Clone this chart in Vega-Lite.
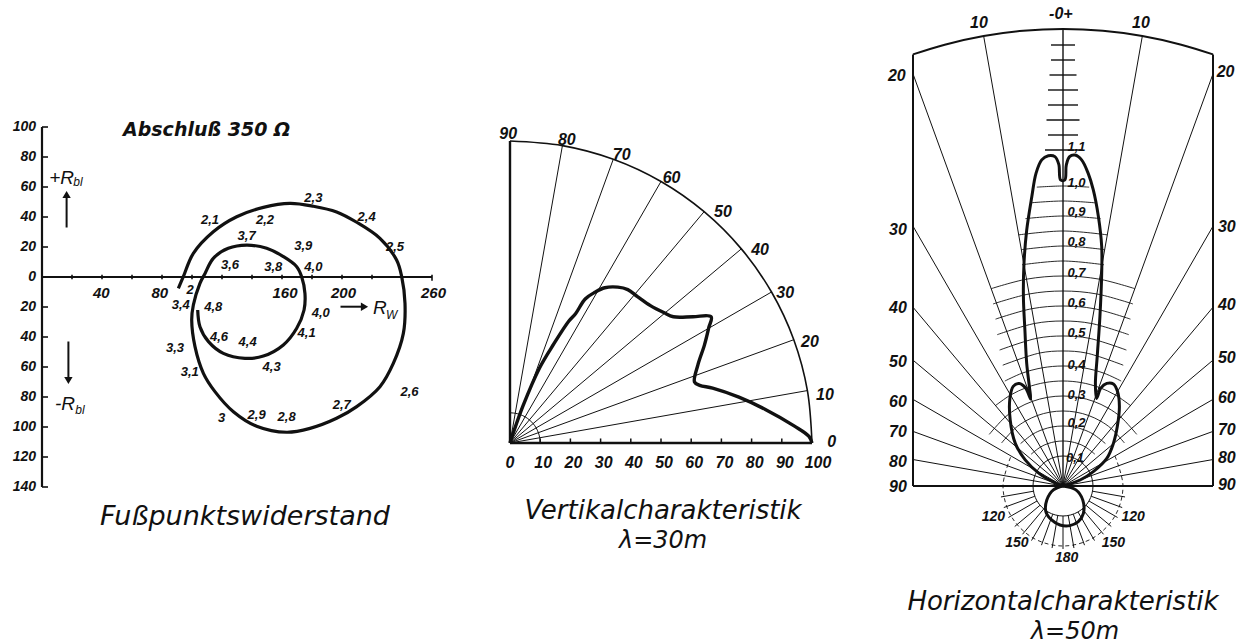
{
"$schema":"https://vega.github.io/schema/vega-lite/v6.json",
"background":"white",
"padding":0,
"spacing":0,
"config":{"view":{"stroke":null},"concat":{"spacing":0}},
"datasets":{
"L_rules":[
{"k":"axis","x":0,"y":-140,"x2":0,"y2":100},
{"k":"axis","x":0,"y":0,"x2":260,"y2":0},
{"k":"tick","x":0,"y":100,"x2":4,"y2":100},{"k":"tick","x":0,"y":80,"x2":4,"y2":80},{"k":"tick","x":0,"y":60,"x2":4,"y2":60},{"k":"tick","x":0,"y":40,"x2":4,"y2":40},{"k":"tick","x":0,"y":20,"x2":4,"y2":20},{"k":"tick","x":0,"y":-20,"x2":4,"y2":-20},{"k":"tick","x":0,"y":-40,"x2":4,"y2":-40},{"k":"tick","x":0,"y":-60,"x2":4,"y2":-60},{"k":"tick","x":0,"y":-80,"x2":4,"y2":-80},{"k":"tick","x":0,"y":-100,"x2":4,"y2":-100},{"k":"tick","x":0,"y":-120,"x2":4,"y2":-120},{"k":"tick","x":0,"y":-140,"x2":4,"y2":-140},
{"k":"tick","x":20,"y":-1.5,"x2":20,"y2":1.5},{"k":"tick","x":40,"y":-1.5,"x2":40,"y2":1.5},{"k":"tick","x":60,"y":-1.5,"x2":60,"y2":1.5},{"k":"tick","x":80,"y":-1.5,"x2":80,"y2":1.5},{"k":"tick","x":100,"y":-1.5,"x2":100,"y2":1.5},{"k":"tick","x":120,"y":-1.5,"x2":120,"y2":1.5},{"k":"tick","x":140,"y":-1.5,"x2":140,"y2":1.5},{"k":"tick","x":160,"y":-1.5,"x2":160,"y2":1.5},{"k":"tick","x":180,"y":-1.5,"x2":180,"y2":1.5},{"k":"tick","x":200,"y":-1.5,"x2":200,"y2":1.5},{"k":"tick","x":220,"y":-1.5,"x2":220,"y2":1.5},{"k":"tick","x":240,"y":-1.5,"x2":240,"y2":1.5},{"k":"tick","x":260,"y":-2.5,"x2":260,"y2":1.5},
{"k":"arrow","x":16.4,"y":33,"x2":16.4,"y2":53},
{"k":"arrow","x":17.6,"y":-43,"x2":17.6,"y2":-67},
{"k":"arrow","x":199,"y":-19.8,"x2":213,"y2":-19.8}
],
"L_heads":[
{"x":16.4,"y":55,"d":"up"},{"x":17.6,"y":-69,"d":"down"},{"x":215,"y":-19.8,"d":"right"}
],
"L_curve":[
{"i":0,"x":90.9,"y":-7.6},{"i":1,"x":94.2,"y":0.2},{"i":2,"x":100.9,"y":15.8},{"i":3,"x":114.2,"y":30.2},{"i":4,"x":129.8,"y":40.2},{"i":5,"x":147.6,"y":46.4},{"i":6,"x":165.3,"y":49.1},{"i":7,"x":180.9,"y":47.2},{"i":8,"x":196.4,"y":43.4},{"i":9,"x":209.8,"y":36.5},{"i":10,"x":225.3,"y":25.8},{"i":11,"x":236.4,"y":11.3},{"i":12,"x":239.8,"y":0.2},{"i":13,"x":242.0,"y":-17.6},{"i":14,"x":240.9,"y":-37.6},{"i":15,"x":234.2,"y":-57.6},{"i":16,"x":225.3,"y":-73.1},{"i":17,"x":209.8,"y":-86.4},{"i":18,"x":196.4,"y":-94.2},{"i":19,"x":178.7,"y":-100.9},{"i":20,"x":163.1,"y":-103.5},{"i":21,"x":143.1,"y":-99.5},{"i":22,"x":127.6,"y":-89.8},{"i":23,"x":115.3,"y":-76.4},{"i":24,"x":107.6,"y":-64.2},{"i":25,"x":102.0,"y":-46.4},{"i":26,"x":99.8,"y":-28.7},{"i":27,"x":100.9,"y":-18.7},
{"i":28,"x":105.3,"y":-4.2},{"i":29,"x":108.7,"y":2.4},{"i":30,"x":114.2,"y":12.4},{"i":31,"x":124.2,"y":19.1},{"i":32,"x":136.4,"y":21.3},{"i":33,"x":149.8,"y":19.1},{"i":34,"x":160.9,"y":13.6},{"i":35,"x":169.8,"y":6.9},{"i":36,"x":173.1,"y":0.2},{"i":37,"x":175.3,"y":-10.9},{"i":38,"x":174.7,"y":-22.0},{"i":39,"x":169.8,"y":-34.2},{"i":40,"x":160.9,"y":-45.3},{"i":41,"x":147.6,"y":-52.7},{"i":42,"x":135.3,"y":-54.2},{"i":43,"x":120.9,"y":-50.9},{"i":44,"x":111.0,"y":-43.1},{"i":45,"x":105.3,"y":-33.1},{"i":46,"x":103.8,"y":-22.0}
],
"L_text":[
{"k":"yl","x":-4,"y":100,"t":"100"},{"k":"yl","x":-4,"y":80,"t":"80"},{"k":"yl","x":-4,"y":60,"t":"60"},{"k":"yl","x":-4,"y":40,"t":"40"},{"k":"yl","x":-4,"y":20,"t":"20"},{"k":"yl","x":-4,"y":0,"t":"0"},{"k":"yl","x":-4,"y":-20,"t":"20"},{"k":"yl","x":-4,"y":-40,"t":"40"},{"k":"yl","x":-4,"y":-60,"t":"60"},{"k":"yl","x":-4,"y":-80,"t":"80"},{"k":"yl","x":-4,"y":-100,"t":"100"},{"k":"yl","x":-4,"y":-120,"t":"120"},{"k":"yl","x":-4,"y":-140,"t":"140"},
{"k":"xl","x":39.5,"y":-10.5,"t":"40"},{"k":"xl","x":78.5,"y":-10.5,"t":"80"},{"k":"xl","x":162,"y":-10.5,"t":"160"},{"k":"xl","x":201,"y":-10.5,"t":"200"},{"k":"xl","x":261,"y":-10.5,"t":"260"},
{"k":"pl","x":98.7,"y":-8.5,"t":"2"},{"k":"pl","x":112,"y":38,"t":"2,1"},{"k":"pl","x":148.7,"y":38,"t":"2,2"},{"k":"pl","x":180.9,"y":53,"t":"2,3"},{"k":"pl","x":216.4,"y":40.2,"t":"2,4"},{"k":"pl","x":235.3,"y":20.2,"t":"2,5"},{"k":"pl","x":245,"y":-76.4,"t":"2,6"},{"k":"pl","x":199.8,"y":-85.3,"t":"2,7"},{"k":"pl","x":163.1,"y":-93.1,"t":"2,8"},{"k":"pl","x":143.1,"y":-92,"t":"2,9"},{"k":"pl","x":119.8,"y":-94.2,"t":"3"},{"k":"pl","x":98.5,"y":-63.1,"t":"3,1"},{"k":"pl","x":88.7,"y":-47.6,"t":"3,3"},{"k":"pl","x":92.5,"y":-18.7,"t":"3,4"},{"k":"pl","x":125.3,"y":8,"t":"3,6"},{"k":"pl","x":136.4,"y":27.5,"t":"3,7"},{"k":"pl","x":154.2,"y":6.9,"t":"3,8"},{"k":"pl","x":174.2,"y":20.7,"t":"3,9"},{"k":"pl","x":180.9,"y":6.9,"t":"4,0"},{"k":"pl","x":185.8,"y":-23.8,"t":"4,0"},{"k":"pl","x":176.4,"y":-37.6,"t":"4,1"},{"k":"pl","x":153.1,"y":-59.8,"t":"4,3"},{"k":"pl","x":137.1,"y":-43.1,"t":"4,4"},{"k":"pl","x":118,"y":-39.8,"t":"4,6"},{"k":"pl","x":114.2,"y":-19.8,"t":"4,8"},
{"k":"head","x":54,"y":98,"t":"Abschluß 350 Ω"},
{"k":"R","x":13.1,"y":66,"t":"+R"},{"k":"R","x":15.3,"y":-84.4,"t":"-R"},{"k":"R","x":225.3,"y":-20.9,"t":"R"},
{"k":"sub","x":24,"y":63.5,"t":"bl"},{"k":"sub","x":25.3,"y":-88.7,"t":"bl"},{"k":"sub","x":233.1,"y":-25.3,"t":"W"},
{"k":"title","x":135.3,"y":-160,"t":"Fußpunktswiderstand"}
],
"M_rules":[
{"k":"axis","x":0,"y":0,"x2":100,"y2":0},{"k":"axis","x":0,"y":0,"x2":0,"y2":100},
{"k":"radial","x":0,"y":0,"x2":98.48,"y2":17.36},{"k":"radial","x":0,"y":0,"x2":93.97,"y2":34.2},{"k":"radial","x":0,"y":0,"x2":86.6,"y2":50},{"k":"radial","x":0,"y":0,"x2":76.6,"y2":64.28},{"k":"radial","x":0,"y":0,"x2":64.28,"y2":76.6},{"k":"radial","x":0,"y":0,"x2":50,"y2":86.6},{"k":"radial","x":0,"y":0,"x2":34.2,"y2":93.97},{"k":"radial","x":0,"y":0,"x2":17.36,"y2":98.48},
{"k":"tick","x":10,"y":0,"x2":10,"y2":1.5},{"k":"tick","x":20,"y":0,"x2":20,"y2":1.5},{"k":"tick","x":30,"y":0,"x2":30,"y2":1.5},{"k":"tick","x":40,"y":0,"x2":40,"y2":1.5},{"k":"tick","x":50,"y":0,"x2":50,"y2":1.5},{"k":"tick","x":60,"y":0,"x2":60,"y2":1.5},{"k":"tick","x":70,"y":0,"x2":70,"y2":1.5},{"k":"tick","x":80,"y":0,"x2":80,"y2":1.5},{"k":"tick","x":90,"y":0,"x2":90,"y2":1.5}
],
"M_arcs":[
{"a":"o","x":0,"y":100},{"a":"o","x":17.36,"y":98.48},{"a":"o","x":34.2,"y":93.97},{"a":"o","x":50,"y":86.6},{"a":"o","x":64.28,"y":76.6},{"a":"o","x":76.6,"y":64.28},{"a":"o","x":86.6,"y":50},{"a":"o","x":93.97,"y":34.2},{"a":"o","x":98.48,"y":17.36},{"a":"o","x":100,"y":0},
{"a":"i","x":0,"y":10},{"a":"i","x":1.736,"y":9.848},{"a":"i","x":3.42,"y":9.397},{"a":"i","x":5,"y":8.66},{"a":"i","x":6.428,"y":7.66},{"a":"i","x":7.66,"y":6.428},{"a":"i","x":8.66,"y":5},{"a":"i","x":9.397,"y":3.42},{"a":"i","x":9.848,"y":1.736},{"a":"i","x":10,"y":0}
],
"M_curve":[
{"i":0,"x":0,"y":0},{"i":1,"x":1.1,"y":3.4},{"i":2,"x":4.3,"y":12.3},{"i":3,"x":9.7,"y":24.7},{"i":4,"x":14.5,"y":32.8},{"i":5,"x":19.5,"y":40.4},{"i":6,"x":21.7,"y":42.8},{"i":7,"x":24.9,"y":47.7},{"i":8,"x":28.1,"y":49.9},{"i":9,"x":31.4,"y":51.4},{"i":10,"x":35.7,"y":51.6},{"i":11,"x":39.0,"y":50.8},{"i":12,"x":42.2,"y":48.5},{"i":13,"x":46.5,"y":45.5},{"i":14,"x":50.9,"y":43.2},{"i":15,"x":54.1,"y":41.8},{"i":16,"x":60.6,"y":41.8},{"i":17,"x":66.6,"y":41.8},{"i":18,"x":65.8,"y":38.1},{"i":19,"x":64.4,"y":32.5},{"i":20,"x":62.2,"y":25.8},{"i":21,"x":61.1,"y":20.2},{"i":22,"x":62.8,"y":19.1},{"i":23,"x":67.1,"y":18.2},{"i":24,"x":75.8,"y":15.2},{"i":25,"x":84.4,"y":11.2},{"i":26,"x":94.2,"y":5.6},{"i":27,"x":99.0,"y":2.2},{"i":28,"x":100,"y":0}
],
"M_text":[
{"k":"xl","x":0,"y":-6.5,"t":"0"},{"k":"xl","x":11,"y":-6.5,"t":"10"},{"k":"xl","x":21,"y":-6.5,"t":"20"},{"k":"xl","x":31,"y":-6.5,"t":"30"},{"k":"xl","x":41,"y":-6.5,"t":"40"},{"k":"xl","x":51,"y":-6.5,"t":"50"},{"k":"xl","x":61,"y":-6.5,"t":"60"},{"k":"xl","x":71,"y":-6.5,"t":"70"},{"k":"xl","x":81,"y":-6.5,"t":"80"},{"k":"xl","x":91,"y":-6.5,"t":"90"},{"k":"xl","x":102,"y":-6.5,"t":"100"},
{"k":"al","x":106.5,"y":0.3,"t":"0"},{"k":"al","x":104.3,"y":15.9,"t":"10"},{"k":"al","x":99.3,"y":33.5,"t":"20"},{"k":"al","x":91.1,"y":49.6,"t":"30"},{"k":"al","x":82.8,"y":63.9,"t":"40"},{"k":"al","x":70.5,"y":76.6,"t":"50"},{"k":"al","x":53.5,"y":87.6,"t":"60"},{"k":"al","x":37,"y":95.4,"t":"70"},{"k":"al","x":18.8,"y":100.3,"t":"80"},{"k":"al","x":-0.6,"y":102.3,"t":"90"},
{"k":"title","x":50.7,"y":-22.5,"t":"Vertikalcharakteristik"},
{"k":"sub","x":50.7,"y":-32.5,"t":"λ=30m"}
],
"R_rules":[
{"k":"frame","x":-0.5,"y":0,"x2":0.5,"y2":0},{"k":"frame","x":-0.5,"y":0,"x2":-0.5,"y2":1.4386},{"k":"frame","x":0.5,"y":0,"x2":0.5,"y2":1.4386},
{"k":"center","x":0,"y":0,"x2":0,"y2":1.523},
{"k":"radial","x":0,"y":0,"x2":-0.2645,"y2":1.4999},{"k":"radial","x":0,"y":0,"x2":0.2645,"y2":1.4999},
{"k":"radial","x":0,"y":0,"x2":-0.5,"y2":1.3737},{"k":"radial","x":0,"y":0,"x2":0.5,"y2":1.3737},
{"k":"radial","x":0,"y":0,"x2":-0.5,"y2":0.866},{"k":"radial","x":0,"y":0,"x2":0.5,"y2":0.866},
{"k":"radial","x":0,"y":0,"x2":-0.5,"y2":0.5959},{"k":"radial","x":0,"y":0,"x2":0.5,"y2":0.5959},
{"k":"radial","x":0,"y":0,"x2":-0.5,"y2":0.4195},{"k":"radial","x":0,"y":0,"x2":0.5,"y2":0.4195},
{"k":"radial","x":0,"y":0,"x2":-0.5,"y2":0.2887},{"k":"radial","x":0,"y":0,"x2":0.5,"y2":0.2887},
{"k":"radial","x":0,"y":0,"x2":-0.5,"y2":0.182},{"k":"radial","x":0,"y":0,"x2":0.5,"y2":0.182},
{"k":"radial","x":0,"y":0,"x2":-0.5,"y2":0.0882},{"k":"radial","x":0,"y":0,"x2":0.5,"y2":0.0882},
{"k":"tick","x":-0.04,"y":1.47,"x2":0.04,"y2":1.47},{"k":"tick","x":-0.04,"y":1.42,"x2":0.04,"y2":1.42},{"k":"tick","x":-0.045,"y":1.37,"x2":0.045,"y2":1.37},{"k":"tick","x":-0.05,"y":1.32,"x2":0.05,"y2":1.32},{"k":"tick","x":-0.05,"y":1.27,"x2":0.05,"y2":1.27},{"k":"tick","x":-0.055,"y":1.22,"x2":0.055,"y2":1.22},{"k":"tick","x":-0.05,"y":1.17,"x2":0.05,"y2":1.17},{"k":"tick","x":-0.06,"y":1.12,"x2":0.06,"y2":1.12},
{"k":"fan","x":0.0985,"y":-0.0174,"x2":0.2068,"y2":-0.0365},{"k":"fan","x":0.094,"y":-0.0342,"x2":0.1973,"y2":-0.0718},{"k":"fan","x":0.0866,"y":-0.05,"x2":0.1819,"y2":-0.105},{"k":"fan","x":0.0766,"y":-0.0643,"x2":0.1609,"y2":-0.135},{"k":"fan","x":0.0643,"y":-0.0766,"x2":0.135,"y2":-0.1609},{"k":"fan","x":0.05,"y":-0.0866,"x2":0.105,"y2":-0.1819},{"k":"fan","x":0.0342,"y":-0.094,"x2":0.0718,"y2":-0.1973},{"k":"fan","x":0.0174,"y":-0.0985,"x2":0.0365,"y2":-0.2068},{"k":"fan","x":0,"y":-0.1,"x2":0,"y2":-0.21},
{"k":"fan","x":-0.0985,"y":-0.0174,"x2":-0.2068,"y2":-0.0365},{"k":"fan","x":-0.094,"y":-0.0342,"x2":-0.1973,"y2":-0.0718},{"k":"fan","x":-0.0866,"y":-0.05,"x2":-0.1819,"y2":-0.105},{"k":"fan","x":-0.0766,"y":-0.0643,"x2":-0.1609,"y2":-0.135},{"k":"fan","x":-0.0643,"y":-0.0766,"x2":-0.135,"y2":-0.1609},{"k":"fan","x":-0.05,"y":-0.0866,"x2":-0.105,"y2":-0.1819},{"k":"fan","x":-0.0342,"y":-0.094,"x2":-0.0718,"y2":-0.1973},{"k":"fan","x":-0.0174,"y":-0.0985,"x2":-0.0365,"y2":-0.2068}
],
"R_arcs":[
{"k":"frame","a":"f","x":-0.5,"y":1.4386},{"k":"frame","a":"f","x":-0.3942,"y":1.4711},{"k":"frame","a":"f","x":-0.2644,"y":1.4999},{"k":"frame","a":"f","x":-0.1328,"y":1.5172},{"k":"frame","a":"f","x":0,"y":1.523},{"k":"frame","a":"f","x":0.1328,"y":1.5172},{"k":"frame","a":"f","x":0.2644,"y":1.4999},{"k":"frame","a":"f","x":0.3942,"y":1.4711},{"k":"frame","a":"f","x":0.5,"y":1.4386},
{"k":"grid","a":"r100","x":-0.0872,"y":0.9962},{"k":"grid","a":"r100","x":0,"y":1},{"k":"grid","a":"r100","x":0.0872,"y":0.9962},
{"k":"grid","a":"r095","x":-0.1075,"y":0.9439},{"k":"grid","a":"r095","x":0,"y":0.95},{"k":"grid","a":"r095","x":0.1075,"y":0.9439},
{"k":"grid","a":"r090","x":-0.1253,"y":0.8913},{"k":"grid","a":"r090","x":0,"y":0.9},{"k":"grid","a":"r090","x":0.1253,"y":0.8913},
{"k":"grid","a":"r085","x":-0.1476,"y":0.8371},{"k":"grid","a":"r085","x":0,"y":0.85},{"k":"grid","a":"r085","x":0.1476,"y":0.8371},
{"k":"grid","a":"r080","x":-0.1389,"y":0.7878},{"k":"grid","a":"r080","x":0,"y":0.8},{"k":"grid","a":"r080","x":0.1389,"y":0.7878},
{"k":"grid","a":"r075","x":-0.1367,"y":0.7375},{"k":"grid","a":"r075","x":0,"y":0.75},{"k":"grid","a":"r075","x":0.1367,"y":0.7375},
{"k":"grid","a":"r070","x":-0.2394,"y":0.6578},{"k":"grid","a":"r070","x":-0.1215,"y":0.6894},{"k":"grid","a":"r070","x":0,"y":0.7},{"k":"grid","a":"r070","x":0.1215,"y":0.6894},{"k":"grid","a":"r070","x":0.2394,"y":0.6578},
{"k":"grid","a":"r065","x":-0.233,"y":0.6068},{"k":"grid","a":"r065","x":-0.1128,"y":0.6401},{"k":"grid","a":"r065","x":0,"y":0.65},{"k":"grid","a":"r065","x":0.1128,"y":0.6401},{"k":"grid","a":"r065","x":0.233,"y":0.6068},
{"k":"grid","a":"r060","x":-0.2248,"y":0.5563},{"k":"grid","a":"r060","x":-0.1042,"y":0.5909},{"k":"grid","a":"r060","x":0,"y":0.6},{"k":"grid","a":"r060","x":0.1042,"y":0.5909},{"k":"grid","a":"r060","x":0.2248,"y":0.5563},
{"k":"grid","a":"r055","x":-0.2193,"y":0.5044},{"k":"grid","a":"r055","x":-0.0955,"y":0.5416},{"k":"grid","a":"r055","x":0,"y":0.55},{"k":"grid","a":"r055","x":0.0955,"y":0.5416},{"k":"grid","a":"r055","x":0.2193,"y":0.5044},
{"k":"grid","a":"r050","x":-0.2113,"y":0.4532},{"k":"grid","a":"r050","x":-0.0868,"y":0.4924},{"k":"grid","a":"r050","x":0,"y":0.5},{"k":"grid","a":"r050","x":0.0868,"y":0.4924},{"k":"grid","a":"r050","x":0.2113,"y":0.4532},
{"k":"grid","a":"r045","x":-0.2008,"y":0.4027},{"k":"grid","a":"r045","x":-0.0781,"y":0.4432},{"k":"grid","a":"r045","x":0,"y":0.45},{"k":"grid","a":"r045","x":0.0781,"y":0.4432},{"k":"grid","a":"r045","x":0.2008,"y":0.4027},
{"k":"grid","a":"r040","x":-0.1939,"y":0.3498},{"k":"grid","a":"r040","x":-0.1368,"y":0.3759},{"k":"grid","a":"r040","x":-0.0695,"y":0.3939},{"k":"grid","a":"r040","x":0,"y":0.4},{"k":"grid","a":"r040","x":0.0695,"y":0.3939},{"k":"grid","a":"r040","x":0.1368,"y":0.3759},{"k":"grid","a":"r040","x":0.1939,"y":0.3498},
{"k":"grid","a":"r035","x":-0.225,"y":0.2681},{"k":"grid","a":"r035","x":-0.175,"y":0.3031},{"k":"grid","a":"r035","x":-0.1197,"y":0.3289},{"k":"grid","a":"r035","x":-0.0608,"y":0.3447},{"k":"grid","a":"r035","x":0,"y":0.35},{"k":"grid","a":"r035","x":0.0608,"y":0.3447},{"k":"grid","a":"r035","x":0.1197,"y":0.3289},{"k":"grid","a":"r035","x":0.175,"y":0.3031},{"k":"grid","a":"r035","x":0.225,"y":0.2681},
{"k":"grid","a":"r030","x":-0.2458,"y":0.1721},{"k":"grid","a":"r030","x":-0.1928,"y":0.2298},{"k":"grid","a":"r030","x":-0.15,"y":0.2598},{"k":"grid","a":"r030","x":-0.1026,"y":0.2819},{"k":"grid","a":"r030","x":-0.0521,"y":0.2954},{"k":"grid","a":"r030","x":0,"y":0.3},{"k":"grid","a":"r030","x":0.0521,"y":0.2954},{"k":"grid","a":"r030","x":0.1026,"y":0.2819},{"k":"grid","a":"r030","x":0.15,"y":0.2598},{"k":"grid","a":"r030","x":0.1928,"y":0.2298},{"k":"grid","a":"r030","x":0.2458,"y":0.1721},
{"k":"grid","a":"r025","x":-0.2048,"y":0.1434},{"k":"grid","a":"r025","x":-0.1607,"y":0.1915},{"k":"grid","a":"r025","x":-0.125,"y":0.2165},{"k":"grid","a":"r025","x":-0.0855,"y":0.2349},{"k":"grid","a":"r025","x":-0.0434,"y":0.2462},{"k":"grid","a":"r025","x":0,"y":0.25},{"k":"grid","a":"r025","x":0.0434,"y":0.2462},{"k":"grid","a":"r025","x":0.0855,"y":0.2349},{"k":"grid","a":"r025","x":0.125,"y":0.2165},{"k":"grid","a":"r025","x":0.1607,"y":0.1915},{"k":"grid","a":"r025","x":0.2048,"y":0.1434},
{"k":"grid","a":"r020","x":-0.1414,"y":0.1414},{"k":"grid","a":"r020","x":-0.1,"y":0.1732},{"k":"grid","a":"r020","x":-0.0684,"y":0.1879},{"k":"grid","a":"r020","x":-0.0347,"y":0.197},{"k":"grid","a":"r020","x":0,"y":0.2},{"k":"grid","a":"r020","x":0.0347,"y":0.197},{"k":"grid","a":"r020","x":0.0684,"y":0.1879},{"k":"grid","a":"r020","x":0.1,"y":0.1732},{"k":"grid","a":"r020","x":0.1414,"y":0.1414},
{"k":"grid","a":"r015","x":-0.1061,"y":0.1061},{"k":"grid","a":"r015","x":-0.075,"y":0.1299},{"k":"grid","a":"r015","x":-0.0513,"y":0.141},{"k":"grid","a":"r015","x":-0.026,"y":0.1477},{"k":"grid","a":"r015","x":0,"y":0.15},{"k":"grid","a":"r015","x":0.026,"y":0.1477},{"k":"grid","a":"r015","x":0.0513,"y":0.141},{"k":"grid","a":"r015","x":0.075,"y":0.1299},{"k":"grid","a":"r015","x":0.1061,"y":0.1061}
],
"R_dash":[
{"j":0,"x":0.1732,"y":0.1},{"j":1,"x":0.2,"y":0},{"j":2,"x":0.1732,"y":-0.1},{"j":3,"x":0.1,"y":-0.1732},{"j":4,"x":0,"y":-0.2},{"j":5,"x":-0.1,"y":-0.1732},{"j":6,"x":-0.1732,"y":-0.1},{"j":7,"x":-0.2,"y":0},{"j":8,"x":-0.1732,"y":0.1}
],
"R_circle":[
{"j":0,"x":0,"y":0.1},{"j":1,"x":0.05,"y":0.0866},{"j":2,"x":0.0866,"y":0.05},{"j":3,"x":0.1,"y":0},{"j":4,"x":0.0866,"y":-0.05},{"j":5,"x":0.05,"y":-0.0866},{"j":6,"x":0,"y":-0.1},{"j":7,"x":-0.05,"y":-0.0866},{"j":8,"x":-0.0866,"y":-0.05},{"j":9,"x":-0.1,"y":0},{"j":10,"x":-0.0866,"y":0.05},{"j":11,"x":-0.05,"y":0.0866}
],
"R_lobe":[
{"i":0,"x":0,"y":0},{"i":1,"x":0.057,"y":0.02},{"i":2,"x":0.101,"y":0.048},{"i":3,"x":0.146,"y":0.092},{"i":4,"x":0.168,"y":0.142},{"i":5,"x":0.181,"y":0.198},{"i":6,"x":0.188,"y":0.264},{"i":7,"x":0.182,"y":0.314},{"i":8,"x":0.168,"y":0.34},{"i":9,"x":0.146,"y":0.342},{"i":10,"x":0.126,"y":0.326},{"i":11,"x":0.112,"y":0.292},{"i":12,"x":0.108,"y":0.34},{"i":13,"x":0.114,"y":0.431},{"i":14,"x":0.123,"y":0.564},{"i":15,"x":0.129,"y":0.709},{"i":16,"x":0.129,"y":0.798},{"i":17,"x":0.118,"y":0.898},{"i":18,"x":0.101,"y":0.987},{"i":19,"x":0.084,"y":1.042},{"i":20,"x":0.062,"y":1.087},{"i":21,"x":0.04,"y":1.103},{"i":22,"x":0.022,"y":1.098},{"i":23,"x":0.011,"y":1.07},{"i":24,"x":0.006,"y":1.02},{"i":25,"x":-0.008,"y":1.02},{"i":26,"x":-0.014,"y":1.072},{"i":27,"x":-0.027,"y":1.098},{"i":28,"x":-0.049,"y":1.101},{"i":29,"x":-0.071,"y":1.087},{"i":30,"x":-0.09,"y":1.042},{"i":31,"x":-0.104,"y":0.964},{"i":32,"x":-0.121,"y":0.853},{"i":33,"x":-0.13,"y":0.742},{"i":34,"x":-0.132,"y":0.631},{"i":35,"x":-0.127,"y":0.52},{"i":36,"x":-0.121,"y":0.409},{"i":37,"x":-0.112,"y":0.33},{"i":38,"x":-0.108,"y":0.29},{"i":39,"x":-0.124,"y":0.326},{"i":40,"x":-0.146,"y":0.342},{"i":41,"x":-0.166,"y":0.332},{"i":42,"x":-0.177,"y":0.292},{"i":43,"x":-0.176,"y":0.22},{"i":44,"x":-0.159,"y":0.142},{"i":45,"x":-0.126,"y":0.087},{"i":46,"x":-0.08,"y":0.042},{"i":47,"x":-0.03,"y":0.012},{"i":48,"x":0,"y":0}
],
"R_back":[
{"i":0,"x":0,"y":0},{"i":1,"x":-0.032,"y":-0.013},{"i":2,"x":-0.054,"y":-0.047},{"i":3,"x":-0.057,"y":-0.086},{"i":4,"x":-0.038,"y":-0.113},{"i":5,"x":-0.01,"y":-0.13},{"i":6,"x":0.023,"y":-0.132},{"i":7,"x":0.051,"y":-0.119},{"i":8,"x":0.068,"y":-0.091},{"i":9,"x":0.066,"y":-0.047},{"i":10,"x":0.043,"y":-0.013},{"i":11,"x":0,"y":0}
],
"R_text":[
{"k":"sl","x":-0.554,"y":1.367,"t":"20"},{"k":"sl","x":0.542,"y":1.381,"t":"20"},
{"k":"sl","x":-0.55,"y":0.853,"t":"30"},{"k":"sl","x":0.546,"y":0.864,"t":"30"},
{"k":"sl","x":-0.55,"y":0.592,"t":"40"},{"k":"sl","x":0.546,"y":0.603,"t":"40"},
{"k":"sl","x":-0.55,"y":0.414,"t":"50"},{"k":"sl","x":0.546,"y":0.426,"t":"50"},
{"k":"sl","x":-0.55,"y":0.281,"t":"60"},{"k":"sl","x":0.546,"y":0.292,"t":"60"},
{"k":"sl","x":-0.55,"y":0.181,"t":"70"},{"k":"sl","x":0.546,"y":0.187,"t":"70"},
{"k":"sl","x":-0.55,"y":0.081,"t":"80"},{"k":"sl","x":0.546,"y":0.092,"t":"80"},
{"k":"sl","x":-0.55,"y":-0.002,"t":"90"},{"k":"sl","x":0.546,"y":0.003,"t":"90"},
{"k":"sl","x":-0.28,"y":1.542,"t":"10"},{"k":"sl","x":0.26,"y":1.542,"t":"10"},
{"k":"sl","x":-0.007,"y":1.572,"t":"-0+"},
{"k":"scl","x":0.045,"y":1.131,"t":"1,1"},{"k":"scl","x":0.045,"y":1.01,"t":"1,0"},{"k":"scl","x":0.045,"y":0.914,"t":"0,9"},{"k":"scl","x":0.045,"y":0.814,"t":"0,8"},{"k":"scl","x":0.045,"y":0.709,"t":"0,7"},{"k":"scl","x":0.045,"y":0.609,"t":"0,6"},{"k":"scl","x":0.045,"y":0.509,"t":"0,5"},{"k":"scl","x":0.045,"y":0.403,"t":"0,4"},{"k":"scl","x":0.045,"y":0.303,"t":"0,3"},{"k":"scl","x":0.045,"y":0.209,"t":"0,2"},{"k":"scl","x":0.04,"y":0.093,"t":"0,1"},
{"k":"bl","x":-0.232,"y":-0.102,"t":"120"},{"k":"bl","x":0.234,"y":-0.102,"t":"120"},{"k":"bl","x":-0.154,"y":-0.191,"t":"150"},{"k":"bl","x":0.168,"y":-0.191,"t":"150"},{"k":"bl","x":0.012,"y":-0.241,"t":"180"},
{"k":"title","x":0,"y":-0.387,"t":"Horizontalcharakteristik"},
{"k":"sub","x":0.04,"y":-0.487,"t":"λ=50m"}
]
},
"hconcat":[
{
"width":470,"height":644,
"encoding":{
"x":{"field":"x","type":"quantitative","scale":{"domain":[-28,285.333],"nice":false,"zero":false},"axis":null},
"y":{"field":"y","type":"quantitative","scale":{"domain":[-244.667,184.667],"nice":false,"zero":false},"axis":null}
},
"layer":[
{"data":{"name":"L_rules"},"transform":[{"filter":"datum.k=='axis'"}],"mark":{"type":"rule","strokeWidth":2.2,"color":"#111"},"encoding":{"x2":{"field":"x2"},"y2":{"field":"y2"}}},
{"data":{"name":"L_rules"},"transform":[{"filter":"datum.k=='tick'"}],"mark":{"type":"rule","strokeWidth":1.6,"color":"#111"},"encoding":{"x2":{"field":"x2"},"y2":{"field":"y2"}}},
{"data":{"name":"L_rules"},"transform":[{"filter":"datum.k=='arrow'"}],"mark":{"type":"rule","strokeWidth":2,"color":"#111"},"encoding":{"x2":{"field":"x2"},"y2":{"field":"y2"}}},
{"data":{"name":"L_heads"},"mark":{"type":"point","filled":true,"size":70,"color":"#111","opacity":1},"encoding":{"shape":{"field":"d","type":"nominal","scale":{"domain":["up","down","right"],"range":["triangle-up","triangle-down","triangle-right"]},"legend":null}}},
{"data":{"name":"L_curve"},"mark":{"type":"line","interpolate":"catmull-rom","strokeWidth":3.2,"color":"#111"},"encoding":{"order":{"field":"i","type":"quantitative"}}},
{"data":{"name":"L_text"},"transform":[{"filter":"datum.k=='yl'"}],"mark":{"type":"text","font":"Liberation Sans","fontStyle":"italic","fontWeight":"bold","fontSize":14,"align":"right","baseline":"middle","color":"#111"},"encoding":{"text":{"field":"t"}}},
{"data":{"name":"L_text"},"transform":[{"filter":"datum.k=='xl'"}],"mark":{"type":"text","font":"Liberation Sans","fontStyle":"italic","fontWeight":"bold","fontSize":15,"align":"center","baseline":"middle","color":"#111"},"encoding":{"text":{"field":"t"}}},
{"data":{"name":"L_text"},"transform":[{"filter":"datum.k=='pl'"}],"mark":{"type":"text","font":"Liberation Sans","fontStyle":"italic","fontWeight":"bold","fontSize":13,"align":"center","baseline":"middle","color":"#111"},"encoding":{"text":{"field":"t"}}},
{"data":{"name":"L_text"},"transform":[{"filter":"datum.k=='head'"}],"mark":{"type":"text","font":"DejaVu Sans","fontStyle":"italic","fontWeight":"bold","fontSize":19,"align":"left","baseline":"middle","color":"#111"},"encoding":{"text":{"field":"t"}}},
{"data":{"name":"L_text"},"transform":[{"filter":"datum.k=='R'"}],"mark":{"type":"text","font":"Liberation Sans","fontStyle":"italic","fontSize":19,"align":"center","baseline":"middle","color":"#111"},"encoding":{"text":{"field":"t"}}},
{"data":{"name":"L_text"},"transform":[{"filter":"datum.k=='sub'"}],"mark":{"type":"text","font":"Liberation Sans","fontStyle":"italic","fontSize":12,"align":"center","baseline":"middle","color":"#111"},"encoding":{"text":{"field":"t"}}},
{"data":{"name":"L_text"},"transform":[{"filter":"datum.k=='title'"}],"mark":{"type":"text","font":"DejaVu Sans","fontStyle":"italic","fontSize":27,"align":"center","baseline":"middle","color":"#111"},"encoding":{"text":{"field":"t"}}}
]
},
{
"width":390,"height":644,
"encoding":{
"x":{"field":"x","type":"quantitative","scale":{"domain":[-13.245,115.894],"nice":false,"zero":false},"axis":null},
"y":{"field":"y","type":"quantitative","scale":{"domain":[-66.556,146.689],"nice":false,"zero":false},"axis":null}
},
"layer":[
{"data":{"name":"M_rules"},"transform":[{"filter":"datum.k=='radial'"}],"mark":{"type":"rule","strokeWidth":1,"color":"#111"},"encoding":{"x2":{"field":"x2"},"y2":{"field":"y2"}}},
{"data":{"name":"M_rules"},"transform":[{"filter":"datum.k=='axis'"}],"mark":{"type":"rule","strokeWidth":2.4,"color":"#111"},"encoding":{"x2":{"field":"x2"},"y2":{"field":"y2"}}},
{"data":{"name":"M_rules"},"transform":[{"filter":"datum.k=='tick'"}],"mark":{"type":"rule","strokeWidth":1.5,"color":"#111"},"encoding":{"x2":{"field":"x2"},"y2":{"field":"y2"}}},
{"data":{"name":"M_arcs"},"transform":[{"filter":"datum.a=='o'"}],"mark":{"type":"line","interpolate":"catmull-rom","strokeWidth":1.6,"color":"#111"}},
{"data":{"name":"M_arcs"},"transform":[{"filter":"datum.a=='i'"}],"mark":{"type":"line","interpolate":"catmull-rom","strokeWidth":1,"color":"#111"}},
{"data":{"name":"M_curve"},"mark":{"type":"line","interpolate":"catmull-rom","strokeWidth":3.4,"color":"#111"},"encoding":{"order":{"field":"i","type":"quantitative"}}},
{"data":{"name":"M_text"},"transform":[{"filter":"datum.k=='xl' || datum.k=='al'"}],"mark":{"type":"text","font":"Liberation Sans","fontStyle":"italic","fontWeight":"bold","fontSize":16,"align":"center","baseline":"middle","color":"#111"},"encoding":{"text":{"field":"t"}}},
{"data":{"name":"M_text"},"transform":[{"filter":"datum.k=='title'"}],"mark":{"type":"text","font":"DejaVu Sans","fontStyle":"italic","fontSize":26,"align":"center","baseline":"middle","color":"#111"},"encoding":{"text":{"field":"t"}}},
{"data":{"name":"M_text"},"transform":[{"filter":"datum.k=='sub'"}],"mark":{"type":"text","font":"DejaVu Sans","fontStyle":"italic","fontSize":24,"align":"center","baseline":"middle","color":"#111"},"encoding":{"text":{"field":"t"}}}
]
},
{
"width":387,"height":644,
"encoding":{
"x":{"field":"x","type":"quantitative","scale":{"domain":[-0.67667,0.61333],"nice":false,"zero":false},"axis":null},
"y":{"field":"y","type":"quantitative","scale":{"domain":[-0.52667,1.62],"nice":false,"zero":false},"axis":null}
},
"layer":[
{"data":{"name":"R_rules"},"transform":[{"filter":"datum.k=='radial' || datum.k=='fan'"}],"mark":{"type":"rule","strokeWidth":1,"color":"#111"},"encoding":{"x2":{"field":"x2"},"y2":{"field":"y2"}}},
{"data":{"name":"R_rules"},"transform":[{"filter":"datum.k=='center' || datum.k=='tick'"}],"mark":{"type":"rule","strokeWidth":1.4,"color":"#111"},"encoding":{"x2":{"field":"x2"},"y2":{"field":"y2"}}},
{"data":{"name":"R_rules"},"transform":[{"filter":"datum.k=='frame'"}],"mark":{"type":"rule","strokeWidth":2,"color":"#111"},"encoding":{"x2":{"field":"x2"},"y2":{"field":"y2"}}},
{"data":{"name":"R_arcs"},"transform":[{"filter":"datum.k=='grid'"}],"mark":{"type":"line","interpolate":"catmull-rom","strokeWidth":0.9,"color":"#111"},"encoding":{"detail":{"field":"a","type":"nominal"}}},
{"data":{"name":"R_arcs"},"transform":[{"filter":"datum.k=='frame'"}],"mark":{"type":"line","interpolate":"catmull-rom","strokeWidth":2,"color":"#111"}},
{"data":{"name":"R_dash"},"mark":{"type":"line","interpolate":"catmull-rom","strokeWidth":0.9,"strokeDash":[4,3],"color":"#111"},"encoding":{"order":{"field":"j","type":"quantitative"}}},
{"data":{"name":"R_circle"},"mark":{"type":"line","interpolate":"cardinal-closed","strokeWidth":1,"color":"#111"},"encoding":{"order":{"field":"j","type":"quantitative"}}},
{"data":{"name":"R_lobe"},"mark":{"type":"line","interpolate":"catmull-rom","strokeWidth":3,"color":"#111"},"encoding":{"order":{"field":"i","type":"quantitative"}}},
{"data":{"name":"R_back"},"mark":{"type":"line","interpolate":"catmull-rom","strokeWidth":3,"color":"#111"},"encoding":{"order":{"field":"i","type":"quantitative"}}},
{"data":{"name":"R_text"},"transform":[{"filter":"datum.k=='sl'"}],"mark":{"type":"text","font":"Liberation Sans","fontStyle":"italic","fontWeight":"bold","fontSize":16,"align":"center","baseline":"middle","color":"#111"},"encoding":{"text":{"field":"t"}}},
{"data":{"name":"R_text"},"transform":[{"filter":"datum.k=='scl'"}],"mark":{"type":"text","font":"Liberation Sans","fontStyle":"italic","fontWeight":"bold","fontSize":13,"align":"center","baseline":"middle","color":"#111"},"encoding":{"text":{"field":"t"}}},
{"data":{"name":"R_text"},"transform":[{"filter":"datum.k=='bl'"}],"mark":{"type":"text","font":"Liberation Sans","fontStyle":"italic","fontWeight":"bold","fontSize":14,"align":"center","baseline":"middle","color":"#111"},"encoding":{"text":{"field":"t"}}},
{"data":{"name":"R_text"},"transform":[{"filter":"datum.k=='title'"}],"mark":{"type":"text","font":"DejaVu Sans","fontStyle":"italic","fontSize":26,"align":"center","baseline":"middle","color":"#111"},"encoding":{"text":{"field":"t"}}},
{"data":{"name":"R_text"},"transform":[{"filter":"datum.k=='sub'"}],"mark":{"type":"text","font":"DejaVu Sans","fontStyle":"italic","fontSize":24,"align":"center","baseline":"middle","color":"#111"},"encoding":{"text":{"field":"t"}}}
]
}
]
}
